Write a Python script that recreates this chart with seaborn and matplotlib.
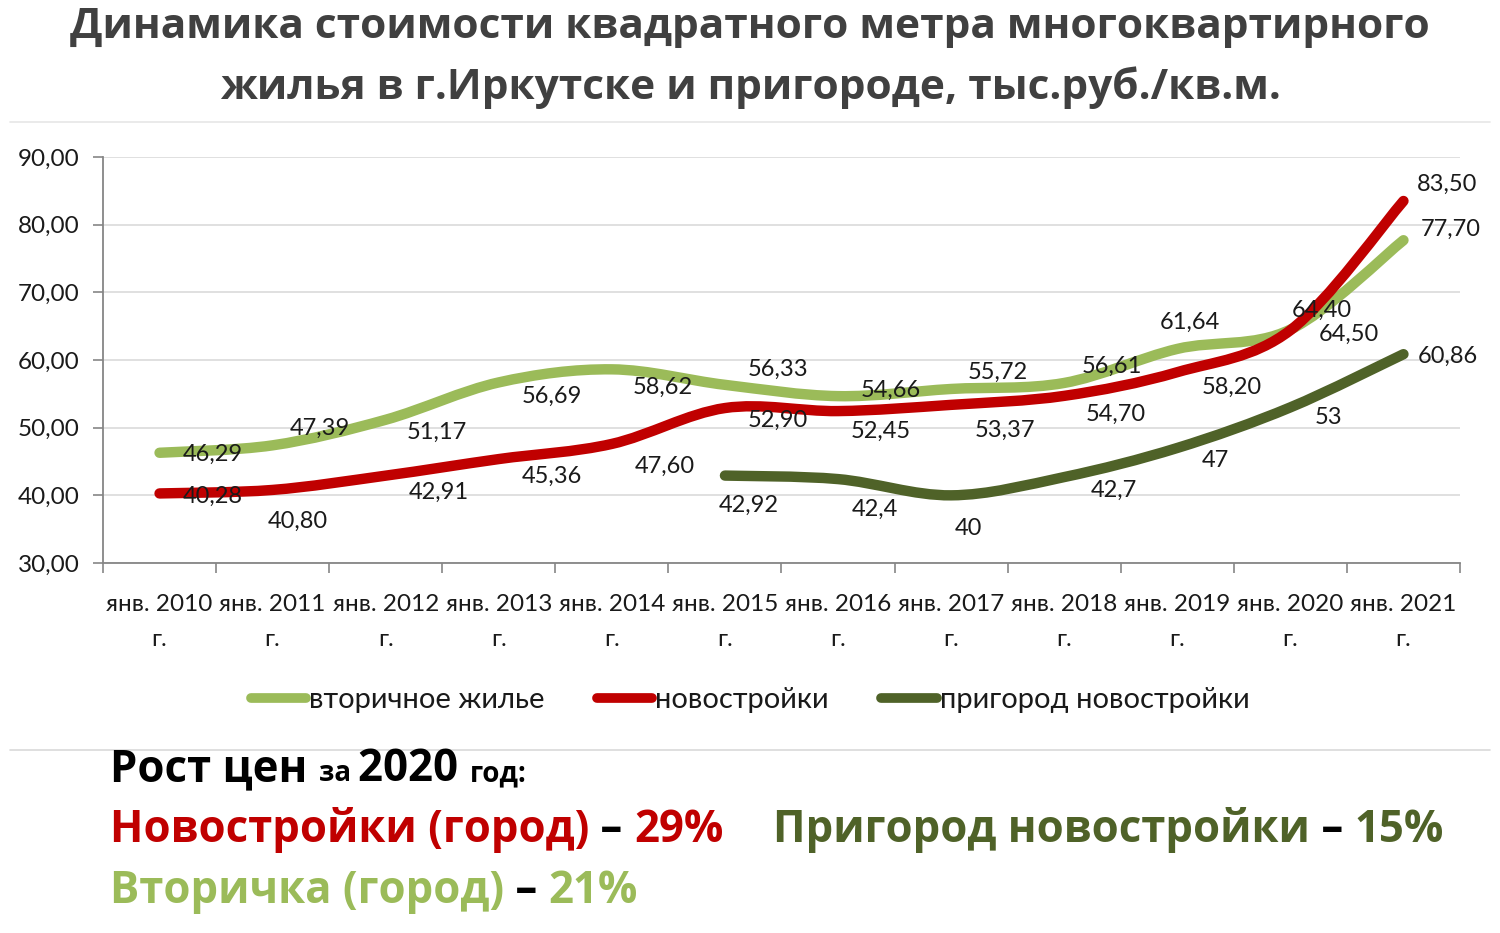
import matplotlib
matplotlib.use("Agg")
import matplotlib.pyplot as plt
import seaborn as sns
import numpy as np
from matplotlib.path import Path
from matplotlib.patches import PathPatch
from matplotlib.lines import Line2D

# data
years = ["янв. 2010\nг.", "янв. 2011\nг.", "янв. 2012\nг.", "янв. 2013\nг.",
         "янв. 2014\nг.", "янв. 2015\nг.", "янв. 2016\nг.", "янв. 2017\nг.",
         "янв. 2018\nг.", "янв. 2019\nг.", "янв. 2020\nг.", "янв. 2021\nг."]
secondary = [46.29, 47.39, 51.17, 56.69, 58.62, 56.33, 54.66, 55.72, 56.61, 61.64, 64.50, 77.70]
new_city = [40.28, 40.80, 42.91, 45.36, 47.60, 52.90, 52.45, 53.37, 54.70, 58.20, 64.40, 83.50]
suburb = [None, None, None, None, None, 42.92, 42.4, 40, 42.7, 47, 53, 60.86]
suburb_labels = ["", "", "", "", "", "42,92", "42,4", "40", "42,7", "47", "53", "60,86"]

C_LIGHT = "#9BBB59"
C_RED = "#C00000"
C_DARK = "#4F6228"

# label offsets in pixels (dx, dy up)
off_secondary = [(53, -2), (47, 17), (51, -13), (53, -14), (51, -18), (53, 15),
                 (53, 6), (47, 17), (48, 17), (13, 27), (59, -5), (47, 11)]
off_new = [(53, -3), (25, -31), (53, -17), (53, -17), (53, -22), (53, -12),
           (43, -20), (54, -25), (52, -18), (54, -15), (31, 20), (44, 17)]
off_suburb = [None] * 5 + [(24, -30), (37, -30), (17, -33), (50, -13), (38, -13), (38, -10), (44, -2)]

sns.set_theme(style="white")
plt.rcParams["font.family"] = ["Lato", "DejaVu Sans"]

fig = plt.figure(figsize=(15, 9.33), dpi=100)
ax = fig.add_axes([103 / 1500, 1 - 563 / 933, 1357 / 1500, 406 / 933])


def smooth_path(xs, ys):
    # Excel-like smoothed line: cubic bezier through every point
    pts = np.column_stack([xs, ys]).astype(float)
    n = len(pts)
    verts = [pts[0]]
    codes = [Path.MOVETO]
    for i in range(n - 1):
        p0 = pts[i - 1] if i > 0 else pts[i]
        p1 = pts[i]
        p2 = pts[i + 1]
        p3 = pts[i + 2] if i + 2 < n else pts[i + 1]
        verts += [p1 + (p2 - p0) / 6, p2 - (p3 - p1) / 6, p2]
        codes += [Path.CURVE4] * 3
    return Path(verts, codes)


def draw_series(values, color):
    xs = [i for i, v in enumerate(values) if v is not None]
    ys = [v for v in values if v is not None]
    patch = PathPatch(smooth_path(xs, ys), facecolor="none", edgecolor=color,
                      lw=7.5, capstyle="round", joinstyle="round", zorder=3)
    ax.add_patch(patch)


draw_series(secondary, C_LIGHT)
draw_series(new_city, C_RED)
draw_series(suburb, C_DARK)

lab_font = dict(fontsize=17, color="#1a1a1a", ha="center", va="center", zorder=5)
for i, v in enumerate(secondary):
    ax.annotate(f"{v:.2f}".replace(".", ","), (i, v), xytext=off_secondary[i],
                textcoords="offset pixels", **lab_font)
for i, v in enumerate(new_city):
    ax.annotate(f"{v:.2f}".replace(".", ","), (i, v), xytext=off_new[i],
                textcoords="offset pixels", **lab_font)
for i, v in enumerate(suburb):
    if v is not None:
        ax.annotate(suburb_labels[i], (i, v), xytext=off_suburb[i],
                    textcoords="offset pixels", **lab_font)

ax.set_xlim(-0.5, len(years) - 0.5)
ax.set_ylim(30, 90)
ax.set_yticks(np.arange(30, 91, 10))
ax.set_yticklabels([f"{t:.2f}".replace(".", ",") for t in np.arange(30, 91, 10)])
ax.set_xticks(range(len(years)))
ax.set_xticklabels(years, linespacing=1.85)
ax.set_xticks(np.arange(-0.5, len(years), 1), minor=True)
ax.tick_params(axis="x", which="major", length=0, labelsize=17.5, pad=22, colors="#1a1a1a")
ax.tick_params(axis="x", which="minor", length=7, color="#868686", width=1.2,
               direction="out", bottom=True)
ax.tick_params(axis="y", length=7, color="#868686", width=1.2, labelsize=17.5,
               pad=10, labelcolor="#1a1a1a", left=True)

ax.grid(axis="y", color="#DDDDDD", lw=1.3)
ax.set_axisbelow(True)
for s in ["top", "right"]:
    ax.spines[s].set_visible(False)
for s in ["left", "bottom"]:
    ax.spines[s].set_color("#868686")
    ax.spines[s].set_linewidth(1.3)

# legend
handles = [Line2D([], [], color=c, lw=7, solid_capstyle="round") for c in (C_LIGHT, C_RED, C_DARK)]
fig.legend(handles, ["вторичное жилье", "новостройки", "пригород новостройки"],
           loc="center", bbox_to_anchor=(0.5, 1 - 700 / 933), ncol=3, frameon=False,
           fontsize=21, handlelength=1.9, handletextpad=0.1, columnspacing=1.8,
           labelcolor="#1a1a1a")

# title
for y_px, line in [(27, "Динамика стоимости квадратного метра многоквартирного"),
                   (88, "жилья в г.Иркутске и пригороде, тыс.руб./кв.м.")]:
    fig.text(0.5, 1 - y_px / 933, line, ha="center", va="center", fontsize=30.5,
             fontweight="bold", color="#404040", family=["Open Sans", "DejaVu Sans"])

# faint frame lines
fig.add_artist(Line2D([10 / 1500, 1490 / 1500], [1 - 122 / 933] * 2, color="#E6E6E6", lw=1.2))
fig.add_artist(Line2D([10 / 1500, 1490 / 1500], [1 - 750 / 933] * 2, color="#D9D9D9", lw=1.2))

# summary text under the chart
renderer = fig.canvas.get_renderer()


def rich_line(x_px, base_px, pieces):
    x = x_px / 1500
    for txt, color, size in pieces:
        t = fig.text(x, 1 - base_px / 933, txt, color=color, fontsize=size,
                     fontweight="bold", ha="left", va="baseline",
                     family=["Open Sans", "DejaVu Sans"])
        x += t.get_window_extent(renderer).width / 1500


BIG = 31.5
rich_line(110, 781, [("Рост цен ", "black", BIG), ("за ", "black", 20),
                     ("2020 ", "black", BIG), ("год:", "black", 20)])
rich_line(110, 842, [("Новостройки (город)", C_RED, BIG), (" – ", "black", BIG), ("29%", C_RED, BIG)])
rich_line(773, 842, [("Пригород новостройки", C_DARK, BIG), (" – ", "black", BIG), ("15%", C_DARK, BIG)])
rich_line(110, 903, [("Вторичка (город)", C_LIGHT, BIG), (" – ", "black", BIG), ("21%", C_LIGHT, BIG)])

fig.savefig("out.png", dpi=100, facecolor="white")
